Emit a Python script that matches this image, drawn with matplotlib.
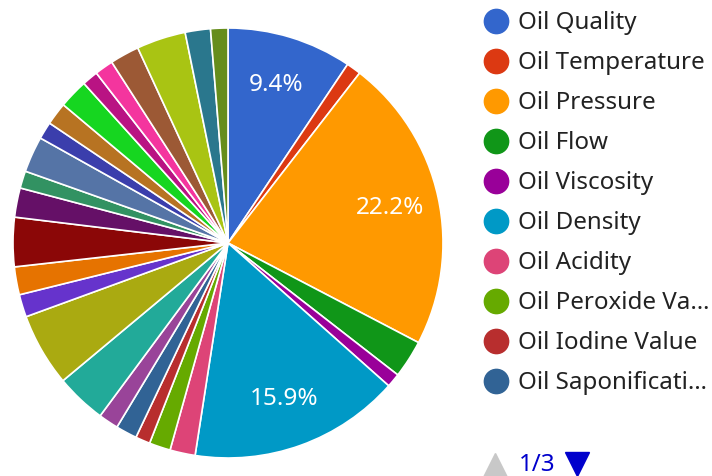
import matplotlib.pyplot as plt
import numpy as np

# datos del grafico (porcentajes)
categorias = ['Oil Quality', 'Oil Temperature', 'Oil Pressure', 'Oil Flow', 'Oil Viscosity',
              'Oil Density', 'Oil Acidity', 'Oil Peroxide Value', 'Oil Iodine Value',
              'Oil Saponification Value', 'Oil Moisture', 'Oil Color', 'Oil Clarity',
              'Oil Odor', 'Oil Taste', 'Oil Smoke Point', 'Oil Flash Point', 'Oil Fire Point',
              'Oil Cloud Point', 'Oil Pour Point', 'Oil Refractive Index', 'Oil Free Fatty Acids',
              'Oil Anisidine Value', 'Oil Totox Value', 'Oil Polar Compounds', 'Oil Stability',
              'Oil Impurities', 'Oil Wax Content']
valores = [9.4, 1.1, 22.2, 2.85, 1.05, 15.9, 1.9, 1.6, 1.1, 1.6, 1.5, 3.8, 5.5, 1.7,
           2.1, 3.7, 2.2, 1.3, 2.7, 1.3, 1.7, 2.2, 1.2, 1.4, 2.2, 3.7, 1.9, 1.3]
colores = ['#3366cc', '#dc3912', '#ff9900', '#109618', '#990099', '#0099c6', '#dd4477',
           '#66aa00', '#b82e2e', '#316395', '#994499', '#22aa99', '#aaaa11', '#6633cc',
           '#e67300', '#8b0707', '#651067', '#329262', '#5574a6', '#3b3eac', '#b77322',
           '#16d620', '#b91383', '#f4359e', '#9c5935', '#a9c413', '#2a778d', '#668d1c']
# etiquetas de la primera pagina de la leyenda (recortadas como en la imagen)
leyenda = ['Oil Quality', 'Oil Temperature', 'Oil Pressure', 'Oil Flow', 'Oil Viscosity',
           'Oil Density', 'Oil Acidity', 'Oil Peroxide Va\u2026', 'Oil Iodine Value',
           'Oil Saponificati\u2026']
pagina = '1/3'

plt.rcParams['font.family'] = ['Noto Sans', 'DejaVu Sans']

fig = plt.figure(figsize=(7.12, 4.76), dpi=100)
W, H = 712, 476
ax = fig.add_axes([13 / W, 1 - 458 / H, 430 / W, 430 / H])

def etiqueta(p):
    return f'{p:.1f}%' if p > 9 else ''

wedges, textos, auto = ax.pie(valores, colors=colores, startangle=90, counterclock=False,
                              autopct=etiqueta, pctdistance=0.77,
                              wedgeprops=dict(edgecolor='white', linewidth=1.2),
                              textprops=dict(color='white', fontsize=17.5))
ax.set_xlim(-1, 1)
ax.set_ylim(-1, 1)

# leyenda manual a la derecha
lg = fig.add_axes([0, 0, 1, 1])
lg.set_xlim(0, W)
lg.set_ylim(H, 0)
lg.axis('off')
for i, nombre in enumerate(leyenda):
    y = 21 + 40 * i
    lg.plot(496, y, 'o', color=colores[i], markersize=17.5)
    lg.text(518, y + 2, nombre, va='center', ha='left', fontsize=17.4, color='#222222')

# paginador
lg.plot(495, 465, '^', color='#c8c8c8', markersize=17, clip_on=False)
lg.text(519, 465, pagina, ha='left', va='center', fontsize=17.4, color='#0000cc')
lg.plot(577, 464, 'v', color='#0000cc', markersize=17, clip_on=False)

plt.savefig('out.png', dpi=100)
